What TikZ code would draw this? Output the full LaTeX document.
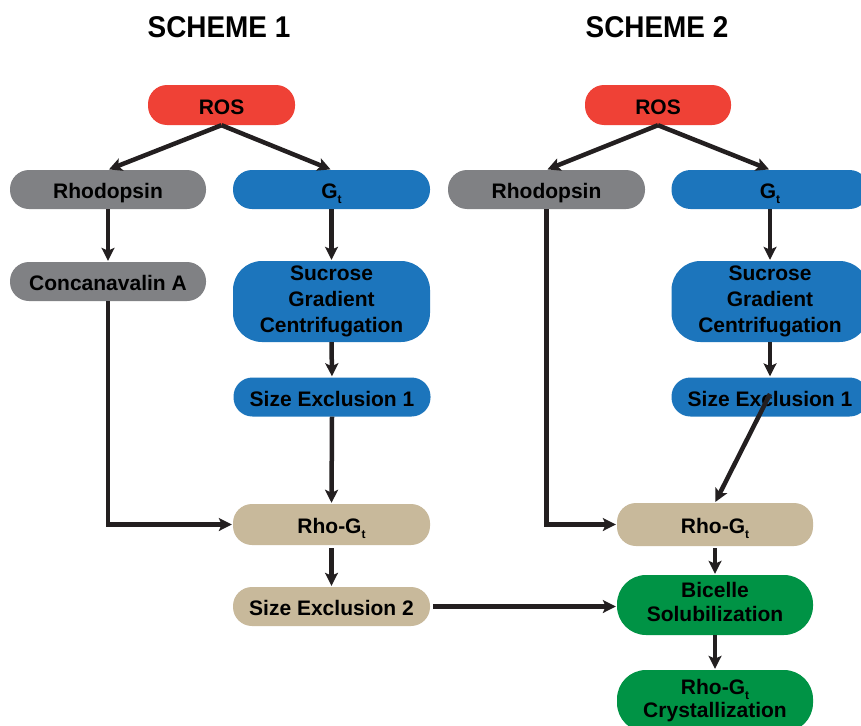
\documentclass[tikz,border=0pt]{standalone}
\usepackage{fontspec}
\setmainfont{Liberation Sans}
\usetikzlibrary{arrows.meta,positioning}
\definecolor{rosred}{HTML}{EF4136}
\definecolor{rhogray}{HTML}{808184}
\definecolor{gtblue}{HTML}{1C75BC}
\definecolor{rhotan}{HTML}{C8B99B}
\definecolor{bicgreen}{HTML}{009345}
\definecolor{arrowc}{HTML}{231F20}
\newcommand{\Gsub}{G\raisebox{-5pt}{\fontsize{12}{12}\selectfont t}}
\begin{document}
\begin{tikzpicture}[x=1pt,y=-1pt,
  basebox/.style={rectangle, minimum width=197pt, minimum height=39pt,
    inner sep=0pt, align=center, text=black,
    font=\fontsize{21}{26}\selectfont\bfseries},
  box/.style={basebox, rounded corners=19pt, text height=18pt, text depth=0pt},
  tallbox/.style={basebox, rounded corners=29pt},
  title/.style={font=\fontsize{30}{30}\selectfont\bfseries, text=black, inner sep=0pt},
  conn/.style={draw=arrowc, line width=4.5pt,
    -{Stealth[length=13pt,width=13pt,inset=3pt]}, shorten >=1pt}]
\useasboundingbox (0,0) rectangle (861,725);
\clip (0,0) rectangle (861,725);
\fill[white] (0,0) rectangle (861,725);

% titles
\node[title] (t1) at (219,27) {\addfontfeature{FakeStretch=0.93}SCHEME 1};
\node[title] (t2) at (657,27) {\addfontfeature{FakeStretch=0.93}SCHEME 2};

% scheme 1
\node[box, fill=rosred, minimum width=147pt, minimum height=40pt] (ros1) at (221.5,105) {ROS};
\node[box, fill=rhogray, minimum width=196pt] (rho1) at (108,189.5) {Rhodopsin};
\node[box, fill=gtblue] (gt1) at (331.5,189.5) {\Gsub};
\node[box, fill=rhogray, minimum width=196pt] (con) at (108,281.5) {Concanavalin A};
\node[tallbox, fill=gtblue, minimum height=81pt] (suc1) at (331.5,301.5) {Sucrose\\Gradient\\Centrifugation};
\node[box, fill=gtblue] (se1a) at (332,397) {Size Exclusion 1};
\node[box, fill=rhotan, minimum height=41pt] (rg1) at (331.5,524.5) {Rho-\Gsub};
\node[box, fill=rhotan] (se2) at (331.5,606.5) {Size Exclusion 2};

% scheme 2
\node[box, fill=rosred, minimum width=146pt, minimum height=40pt] (ros2) at (658,105) {ROS};
\node[box, fill=rhogray] (rho2) at (546.5,189.5) {Rhodopsin};
\node[box, fill=gtblue] (gt2) at (770,189.5) {\Gsub};
\node[tallbox, fill=gtblue, minimum height=81pt] (suc2) at (770,301.5) {Sucrose\\Gradient\\Centrifugation};
\node[box, fill=gtblue] (se1b) at (770,397) {Size Exclusion 1};
\node[box, fill=rhotan, minimum width=196pt, minimum height=43pt] (rg2) at (715,524.5) {Rho-\Gsub};
\node[tallbox, fill=bicgreen, minimum width=196pt, minimum height=60pt] (bic) at (715,605) {Bicelle\\[-2pt]Solubilization\\[-20pt]\mbox{}};
\node[tallbox, fill=bicgreen, minimum width=196pt, minimum height=62pt] (cry) at (715,701) {Rho-\Gsub\\[-3pt]Crystallization};

% connectors scheme 1
\draw[conn] (ros1.south) -- (rho1.north);
\draw[conn] (ros1.south) -- (gt1.north);
\draw[conn] (rho1.south) -- (con.north);
\draw[conn] (con.south) |- (rg1.west);
\draw[conn] (gt1.south) -- (suc1.north);
\draw[conn] (suc1.south) -- (se1a.north);
\draw[conn] (se1a.south) -- (rg1.north);
\draw[conn, shorten <=3pt] (rg1.south) -- (se2.north);
\draw[conn, shorten <=3pt] (se2.east) -- (se2.east -| bic.west);

% connectors scheme 2
\draw[conn] (ros2.south) -- (rho2.north);
\draw[conn] (ros2.south) -- (gt2.north);
\draw[conn] (rho2.south) |- (rg2.west);
\draw[conn] (gt2.south) -- (suc2.north);
\draw[conn] (suc2.south) -- (se1b.north);
\draw[conn] ([yshift=3pt]se1b.center) -- (rg2.north);
\draw[conn, shorten <=2pt] (rg2.south) -- (bic.north);
\draw[conn] (bic.south) -- (cry.north);
\end{tikzpicture}
\end{document}
